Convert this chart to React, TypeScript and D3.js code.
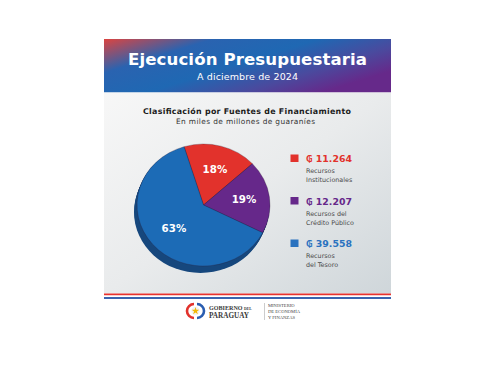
import React from "react";
import * as d3 from "d3";

const categories = ["Recursos Institucionales", "Recursos del Crédito Público", "Recursos del Tesoro"];
const legendLines = [["Recursos", "Institucionales"], ["Recursos del", "Crédito Público"], ["Recursos", "del Tesoro"]];
const values = [11264, 12207, 39558];
const colors = ["#e2322c", "#66288a", "#1c6bb6"];
const legendColors = ["#e2322c", "#66288a", "#2a72bf"];

const title = "Ejecución Presupuestaria";
const subtitle = "A diciembre de 2024";
const chartTitle = "Clasificación por Fuentes de Financiamiento";
const chartSubtitle = "En miles de millones de guaraníes";

const locale = d3.formatLocale({ decimal: ",", thousands: ".", grouping: [3], currency: ["₲ ", ""] });
const fmt = locale.format("$,.0f");

const SANS = "'DejaVu Sans', 'Open Sans', sans-serif";
const SERIF = "'Liberation Serif', 'DejaVu Serif', serif";

export default function App() {
  const W = 495, H = 365;
  const cx = 203.5, cy = 205, rx = 66.5, ry = 61;
  const depth = 7;
  const total = d3.sum(values);
  const pie = d3.pie<number>().sort(null).startAngle((-17 * Math.PI) / 180).endAngle((343 * Math.PI) / 180);
  const arcs = pie(values);
  const arc = d3.arc<d3.PieArcDatum<number>>().innerRadius(0).outerRadius(1);
  const labelArc = d3.arc<d3.PieArcDatum<number>>().innerRadius(0.6).outerRadius(0.6);
  const depthSteps = d3.range(1, depth + 1);

  const legendY = d3.scalePoint<number>().domain([0, 1, 2]).range([162, 247]);

  return (
    <svg width={W} height={H} style={{ position: "absolute", left: 0, top: 0 }}>
      <defs>
        <linearGradient id="hdr" x1="0" y1="0" x2="1" y2="0.6">
          <stop offset="0" stopColor="#dc4440" />
          <stop offset="0.28" stopColor="#2a63b0" />
          <stop offset="0.55" stopColor="#1f68b3" />
          <stop offset="0.8" stopColor="#4a4a9e" />
          <stop offset="1" stopColor="#66298a" />
        </linearGradient>
        <linearGradient id="panel" x1="0" y1="0" x2="1" y2="1">
          <stop offset="0" stopColor="#f7f7f7" />
          <stop offset="0.5" stopColor="#e9ebec" />
          <stop offset="1" stopColor="#cfd6da" />
        </linearGradient>
      </defs>
      <rect x={0} y={0} width={W} height={H} fill="#ffffff" />
      {/* header */}
      <rect x={104} y={39} width={287} height={53.5} fill="url(#hdr)" />
      <text x={247.5} y={65} textAnchor="middle" fill="#fff" fontFamily={SANS} fontWeight={700} fontSize={16.6} textLength={239}>{title}</text>
      <text x={247.5} y={80.3} textAnchor="middle" fill="#fff" fontFamily={SANS} fontSize={9.5} textLength={101}>{subtitle}</text>
      {/* panel */}
      <rect x={104} y={92.5} width={287} height={201} fill="url(#panel)" />
      <text x={247} y={114.3} textAnchor="middle" fill="#1d1d1d" fontFamily={SANS} fontWeight={700} fontSize={7.9} textLength={208}>{chartTitle}</text>
      <text x={245.5} y={123.6} textAnchor="middle" fill="#333" fontFamily={SANS} fontSize={7.4} textLength={139}>{chartSubtitle}</text>

      {/* pie depth */}
      <g>
        {depthSteps.map((i) => (
          <ellipse key={i} cx={cx - (i * 3) / depth} cy={cy + i} rx={rx} ry={ry} fill="#16477d" />
        ))}
      </g>
      {/* pie top */}
      <g transform={`translate(${cx},${cy}) scale(${rx},${ry})`}>
        {arcs.map((a, i) => (
          <path key={i} d={arc(a) || ""} fill={colors[i]} stroke="rgba(40,20,40,0.45)" strokeWidth={0.6} vectorEffect="non-scaling-stroke" />
        ))}
      </g>
      {arcs.map((a, i) => {
        const [lx, ly] = labelArc.centroid(a);
        return (
          <text key={i} x={cx + lx * rx + 1} y={cy + ly * ry + 3} textAnchor="middle" fill="#fff" fontFamily={SANS} fontWeight={700} fontSize={10.3}>
            {Math.round((a.data / total) * 100)}%
          </text>
        );
      })}

      {/* legend */}
      {values.map((v, i) => {
        const y = legendY(i) as number;
        return (
          <g key={i}>
            <rect x={290.5} y={y - 7.5} width={8} height={7.5} fill={legendColors[i]} />
            <text x={306} y={y} fill={legendColors[i]} fontFamily={SANS} fontWeight={700} fontSize={9.4}>{fmt(v)}</text>
            {legendLines[i].map((t, j) => (
              <text key={j} x={306} y={y + 11 + j * 9} fill="#4a4a4a" fontFamily={SANS} fontSize={6.4}>{t}</text>
            ))}
          </g>
        );
      })}

      {/* flag lines */}
      <rect x={104} y={293.5} width={287} height={2} fill="#e8322e" />
      <rect x={104} y={295.5} width={287} height={1.5} fill="#ffffff" />
      <rect x={104} y={297} width={287} height={2} fill="#3a64b0" />

      {/* logo */}
      <g>
        <path d="M194,304 A7,7 0 0,0 194,318" fill="none" stroke="#e2322c" strokeWidth={2.6} />
        <path d="M197,304 A7,7 0 0,1 197,318" fill="none" stroke="#2a5db0" strokeWidth={2.6} />
        <circle cx={195.5} cy={311} r={4.2} fill="#f3f3f3" />
        <path d={d3.symbol(d3.symbolStar, 18)() || ""} transform="translate(195.5,311)" fill="#f2b705" />
        <text x={209} y={309.5} fill="#3a3a3a" fontFamily={SERIF} fontWeight={700} fontSize={6.1}>GOBIERNO</text>
        <text x={244} y={309.5} fill="#3a3a3a" fontFamily={SERIF} fontWeight={700} fontSize={3.8}>DEL</text>
        <text x={209} y={318} fill="#3a3a3a" fontFamily={SERIF} fontWeight={700} fontSize={7.2}>PARAGUAY</text>
        <line x1={264.5} y1={303} x2={264.5} y2={320} stroke="#aaa" strokeWidth={0.6} />
        <text x={268} y={306.5} fill="#444" fontFamily={SERIF} fontSize={4.6}>MINISTERIO</text>
        <text x={268} y={312.5} fill="#444" fontFamily={SERIF} fontSize={4.6}>DE ECONOMÍA</text>
        <text x={268} y={318.5} fill="#444" fontFamily={SERIF} fontSize={4.6}>Y FINANZAS</text>
      </g>
    </svg>
  );
}
